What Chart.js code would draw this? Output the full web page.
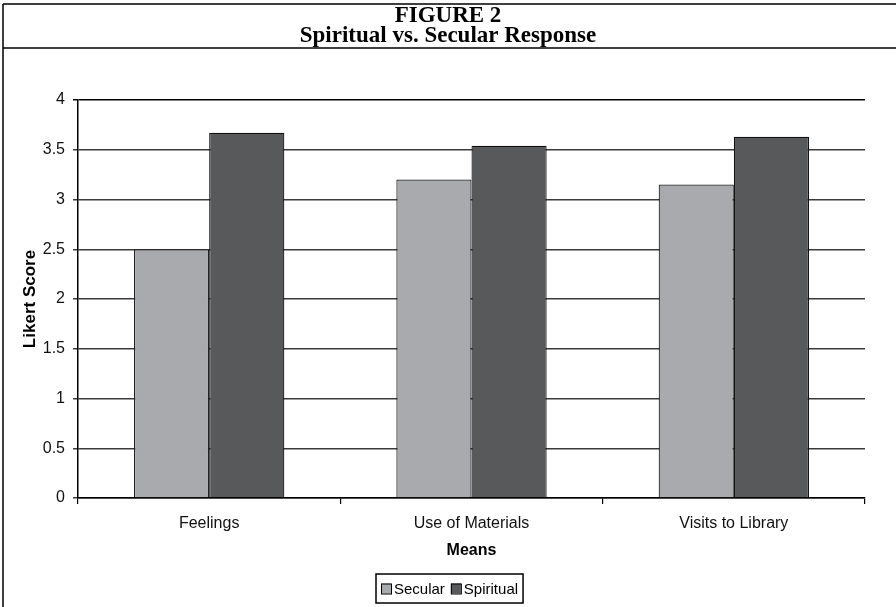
<!DOCTYPE html>
<html>
<head>
<meta charset="utf-8">
<style>
  html, body { margin: 0; padding: 0; background: #ffffff; }
  #wrap { width: 896px; height: 607px; position: relative; }
</style>
<script src="https://cdn.jsdelivr.net/npm/chart.js@4/dist/chart.umd.min.js"></script>
</head>
<body>
<div id="wrap"><canvas id="chart" width="896" height="607"></canvas></div>
<script>
// Mean Likert scores per question group
const categories = ['Feelings', 'Use of Materials', 'Visits to Library'];
const secular = [2.50, 3.20, 3.15];
const spiritual = [3.67, 3.54, 3.63];
const seriesNames = ['Secular', 'Spiritual'];
const titleLines = ['FIGURE 2', 'Spiritual vs. Secular Response'];
const yAxisTitle = 'Likert Score';
const xAxisTitle = 'Means';

const SECULAR_FILL = '#a9aaad';
const SPIRITUAL_FILL = '#58595b';
const SANS = '"Liberation Sans", Arial, sans-serif';

// Frame, two-line heading and boxed legend drawn around the plot
const framePlugin = {
  id: 'frameAndLegend',
  afterDraw(chart) {
    const ctx = chart.ctx;
    const W = chart.width;
    ctx.save();
    ctx.strokeStyle = '#000';
    ctx.lineWidth = 1.5;
    ctx.beginPath();
    ctx.moveTo(3, 4); ctx.lineTo(3, 607);
    ctx.moveTo(3, 4); ctx.lineTo(W, 4);
    ctx.moveTo(3, 48); ctx.lineTo(W, 48);
    ctx.stroke();

    ctx.fillStyle = '#000';
    ctx.textAlign = 'center';
    ctx.textBaseline = 'middle';
    ctx.font = 'bold 23px "Liberation Serif", "Times New Roman", serif';
    ctx.fillText(titleLines[0], 448, 16);
    ctx.fillText(titleLines[1], 448, 36);

    // legend
    const items = [{ t: seriesNames[0], c: SECULAR_FILL }, { t: seriesNames[1], c: SPIRITUAL_FILL }];
    ctx.font = '15px ' + SANS;
    const box = 10, gap = 3, itemGap = 6, padX = 5;
    let total = 0;
    items.forEach((it, i) => {
      total += box + gap + ctx.measureText(it.t).width + (i ? itemGap : 0);
    });
    const lw = total + padX * 2;
    const lx = Math.round(449.5 - lw / 2), ly = 574, lh = 29;
    ctx.lineWidth = 1.5;
    ctx.strokeRect(lx, ly, lw, lh);
    let x = lx + padX;
    const cy = ly + lh / 2;
    ctx.textAlign = 'left';
    items.forEach((it, i) => {
      if (i) x += itemGap;
      ctx.fillStyle = it.c;
      ctx.fillRect(x, cy - box / 2, box, box);
      ctx.lineWidth = 1;
      ctx.strokeRect(x + 0.5, cy - box / 2 + 0.5, box, box);
      x += box + gap;
      ctx.fillStyle = '#000';
      ctx.fillText(it.t, x, cy + 1);
      x += ctx.measureText(it.t).width;
    });
    ctx.restore();
  }
};

new Chart(document.getElementById('chart'), {
  type: 'bar',
  data: {
    labels: categories,
    datasets: [
      { label: seriesNames[0], data: secular, backgroundColor: SECULAR_FILL, borderColor: '#222', borderWidth: 1.2 },
      { label: seriesNames[1], data: spiritual, backgroundColor: SPIRITUAL_FILL, borderColor: '#111', borderWidth: 1.2 }
    ]
  },
  options: {
    responsive: false,
    animation: false,
    devicePixelRatio: 1,
    layout: { padding: { top: 100, left: 0, right: 31, bottom: 47 } },
    datasets: { bar: { categoryPercentage: 0.573, barPercentage: 1.0 } },
    plugins: {
      legend: { display: false },
      title: { display: false },
      tooltip: { enabled: false }
    },
    scales: {
      x: {
        afterFit(scale) { scale.height = 62; },
        grid: { offset: true, drawOnChartArea: false, drawTicks: true, tickLength: 6, color: '#000', lineWidth: 1.2 },
        border: { color: '#000', width: 1.5 },
        ticks: { color: '#111', font: { family: SANS, size: 16 }, padding: 10 },
        title: { display: true, text: xAxisTitle, color: '#000', font: { family: SANS, size: 16, weight: 'bold' }, padding: { top: 8, bottom: 0 } }
      },
      y: {
        min: 0, max: 4,
        afterFit(scale) { scale.width = 78; },
        ticks: {
          stepSize: 0.5, color: '#111', font: { family: SANS, size: 16 }, padding: 8,
          callback: (v) => String(Math.round(v * 10) / 10)
        },
        grid: {
          color: (c) => c.tick && c.tick.value === 4 ? '#000' : '#3a3a3a',
          lineWidth: 1.5,
          tickLength: 5,
          drawTicks: true
        },
        border: { color: '#000', width: 1.5 },
        title: { display: true, text: yAxisTitle, color: '#000', font: { family: SANS, size: 17, weight: 'bold' }, padding: { top: 20, bottom: 0 } }
      }
    }
  },
  plugins: [framePlugin]
});
</script>
</body>
</html>
